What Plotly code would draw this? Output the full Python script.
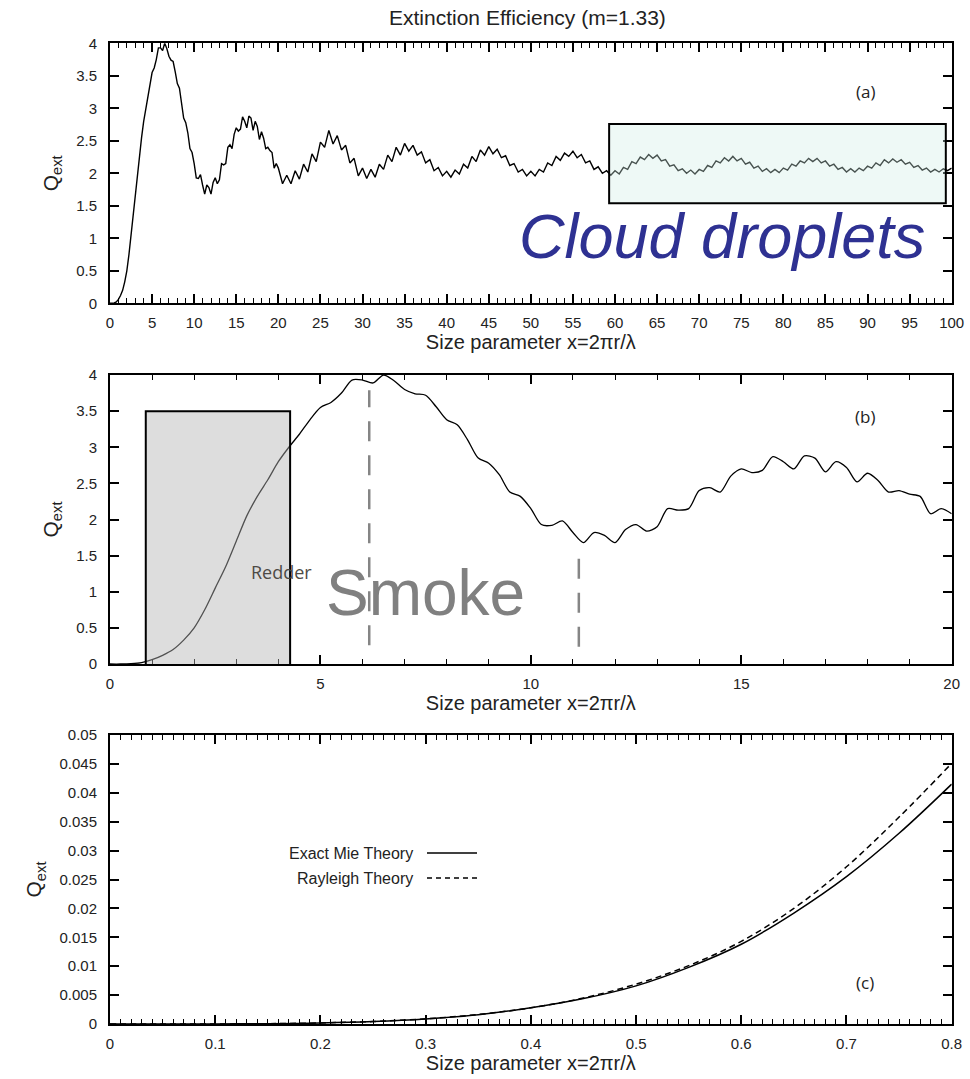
import plotly.graph_objects as go

# Extinction efficiency Q_ext of a water sphere (m = 1.33)

# Fine sampling, x = 0 .. 20 (step 0.25)
x_fine = [i * 0.25 for i in range(81)]
q_fine = [0.0, 0.0, 0.005, 0.02, 0.06, 0.12, 0.2, 0.33, 0.5, 0.75, 1.05, 1.35, 1.7, 2.05, 2.32, 2.55,
          2.8, 3.0, 3.18, 3.38, 3.55, 3.62, 3.75, 3.93, 3.93, 3.89, 4.0, 3.92, 3.8, 3.74, 3.72, 3.56,
          3.38, 3.31, 3.1, 2.85, 2.78, 2.62, 2.38, 2.32, 2.15, 1.93, 1.92, 1.98, 1.82, 1.68, 1.82, 1.78,
          1.68, 1.86, 1.93, 1.84, 1.9, 2.15, 2.13, 2.15, 2.4, 2.44, 2.38, 2.6, 2.7, 2.65, 2.68, 2.87,
          2.8, 2.7, 2.88, 2.85, 2.66, 2.8, 2.72, 2.52, 2.64, 2.54, 2.38, 2.4, 2.35, 2.32, 2.08, 2.15,
          2.08]

# Coarse sampling, x = 20 .. 100 (step 0.5)
x_coarse = [20 + i * 0.5 for i in range(161)]
q_coarse = [2.10, 1.84, 1.97, 1.84, 2.04, 1.91, 2.14, 2.02, 2.30, 2.18, 2.48, 2.40, 2.66, 2.45, 2.58, 2.36,
            2.43, 2.16, 2.23, 1.96, 2.08, 1.92, 2.06, 1.94, 2.14, 2.06, 2.28, 2.18, 2.40, 2.28, 2.46, 2.34,
            2.43, 2.28, 2.33, 2.16, 2.21, 2.04, 2.09, 1.96, 2.03, 1.94, 2.05, 1.99, 2.14, 2.08, 2.26, 2.18,
            2.36, 2.28, 2.41, 2.30, 2.37, 2.24, 2.27, 2.12, 2.15, 2.02, 2.06, 1.96, 2.03, 1.96, 2.06, 2.02,
            2.16, 2.12, 2.26, 2.20, 2.31, 2.26, 2.34, 2.24, 2.29, 2.16, 2.19, 2.06, 2.10, 2.00, 2.04, 1.97,
            2.04, 1.99, 2.09, 2.06, 2.18, 2.15, 2.25, 2.21, 2.29, 2.23, 2.28, 2.19, 2.21, 2.11, 2.13, 2.04,
            2.07, 2.00, 2.05, 1.99, 2.06, 2.03, 2.12, 2.09, 2.19, 2.16, 2.24, 2.19, 2.26, 2.19, 2.23, 2.14,
            2.17, 2.08, 2.11, 2.03, 2.07, 2.01, 2.06, 2.01, 2.08, 2.05, 2.14, 2.11, 2.19, 2.16, 2.23, 2.18,
            2.23, 2.16, 2.19, 2.11, 2.14, 2.06, 2.09, 2.02, 2.07, 2.02, 2.08, 2.04, 2.11, 2.08, 2.16, 2.12,
            2.21, 2.16, 2.22, 2.17, 2.21, 2.14, 2.17, 2.09, 2.12, 2.05, 2.08, 2.02, 2.06, 2.02, 2.07, 2.04,
            2.08]

# Small-particle limit, x = 0 .. 0.8
x_small = [0, 0.05, 0.1, 0.15, 0.2, 0.25, 0.3, 0.35, 0.4, 0.45, 0.5, 0.55, 0.6, 0.65, 0.7, 0.75, 0.8]
q_mie = [0, 0.000001, 0.00001, 0.00005, 0.00017, 0.00042, 0.00087, 0.0016, 0.0028, 0.0044, 0.0066,
         0.0098, 0.0138, 0.0192, 0.0255, 0.0330, 0.0415]
q_rayleigh = [0, 0.000001, 0.00001, 0.00006, 0.00018, 0.00043, 0.00089, 0.00165, 0.0028, 0.0045, 0.0069,
              0.0101, 0.0143, 0.0200, 0.0272, 0.0358, 0.0451]

# First maximum / first minimum markers in panel (b)
marker_x = [6.16, 11.14]
marker_top = [3.79, 1.51]
marker_bottom = [0.26, 0.24]

FONT = "Liberation Sans, Arial, Helvetica, sans-serif"
SOFT = "Open Sans, Liberation Sans, sans-serif"
INK = "#222222"

x_full = x_fine + x_coarse[1:]
q_full = q_fine + q_coarse[1:]

fig = go.Figure()

fig.add_trace(go.Scatter(x=x_full, y=q_full, mode="lines", xaxis="x", yaxis="y",
                         line=dict(color="black", width=1.4), showlegend=False))

fig.add_trace(go.Scatter(x=x_fine, y=q_fine, mode="lines", xaxis="x2", yaxis="y2",
                         line=dict(color="black", width=1.3, shape="spline", smoothing=0.8),
                         showlegend=False))
for mx, top, bot in zip(marker_x, marker_top, marker_bottom):
    fig.add_trace(go.Scatter(x=[mx, mx], y=[bot, top], mode="lines", xaxis="x2", yaxis="y2",
                             line=dict(color="#858585", width=2.5, dash="20px,14px"),
                             showlegend=False))

fig.add_trace(go.Scatter(x=x_small, y=q_mie, mode="lines", xaxis="x3", yaxis="y3",
                         line=dict(color="black", width=1.5, shape="spline"), showlegend=False))
fig.add_trace(go.Scatter(x=x_small, y=q_rayleigh, mode="lines", xaxis="x3", yaxis="y3",
                         line=dict(color="black", width=1.5, shape="spline", dash="6px,4px"),
                         showlegend=False))

x_dom = [110 / 970, 951.7 / 970]


def ydom(top_px, bot_px):
    return [1 - bot_px / 1079, 1 - top_px / 1079]


xtitle = "Size parameter x=2\u03c0r/\u03bb"
ytitle = "Q<sub>ext</sub>"


def xaxis_style(rng, dtick, minor, anchor):
    return dict(domain=x_dom, range=rng, dtick=dtick, tick0=0, anchor=anchor, automargin=False,
                showline=True, linecolor="black", linewidth=2, mirror="ticks",
                ticks="inside", ticklen=9, tickwidth=1.5, tickcolor="black",
                minor=dict(dtick=minor, ticks="inside", ticklen=5, tickwidth=1.2, tickcolor="black"),
                showgrid=False, zeroline=False, ticklabelstandoff=5,
                tickfont=dict(family=FONT, size=15, color=INK),
                title=dict(text=xtitle, standoff=4, font=dict(family=FONT, size=20, color=INK)))


def yaxis_style(rng, dtick, dom, anchor):
    return dict(domain=dom, range=rng, dtick=dtick, tick0=0, anchor=anchor, automargin=False,
                showline=True, linecolor="black", linewidth=2, mirror="ticks",
                ticks="inside", ticklen=9, tickwidth=1.5, tickcolor="black",
                showgrid=False, zeroline=False, ticklabelstandoff=8,
                tickfont=dict(family=FONT, size=15, color=INK),
                title=dict(text=ytitle, standoff=12, font=dict(family=FONT, size=21, color=INK)))


fig.update_layout(
    width=970, height=1079,
    margin=dict(l=0, r=0, t=0, b=0),
    paper_bgcolor="white", plot_bgcolor="white",
    xaxis=xaxis_style([0, 100], 5, 1, "y"),
    yaxis=yaxis_style([0, 4], 0.5, ydom(43.3, 303.3), "x"),
    xaxis2=xaxis_style([0, 20], 5, 1, "y2"),
    yaxis2=yaxis_style([0, 4], 0.5, ydom(375, 664), "x2"),
    xaxis3=xaxis_style([0, 0.8], 0.1, 0.01, "y3"),
    yaxis3=yaxis_style([0, 0.05], 0.005, ydom(735, 1024), "x3"),
)

shapes = [
    # cloud droplet size range
    dict(type="rect", xref="x", yref="y", x0=59.3, x1=99.3, y0=1.54, y1=2.76, layer="above",
         fillcolor="rgba(205,238,230,0.35)", line=dict(color="black", width=2)),
    # smoke size range
    dict(type="rect", xref="x2", yref="y2", x0=0.85, x1=4.28, y0=-0.04, y1=3.5, layer="above",
         fillcolor="rgba(180,180,180,0.45)", line=dict(color="black", width=2)),
    # legend samples
    dict(type="line", xref="paper", yref="paper", x0=427 / 970, x1=477 / 970,
         y0=1 - 853 / 1079, y1=1 - 853 / 1079, line=dict(color="black", width=1.5)),
    dict(type="line", xref="paper", yref="paper", x0=427 / 970, x1=477 / 970,
         y0=1 - 878 / 1079, y1=1 - 878 / 1079, line=dict(color="black", width=1.5, dash="5px,4px")),
]
fig.update_layout(shapes=shapes)


def px_note(text, x, y, size, color=INK, family=FONT, xanchor="center", italic=False):
    return dict(text=text, xref="paper", yref="paper", x=x / 970, y=1 - y / 1079,
                xanchor=xanchor, yanchor="middle", showarrow=False,
                font=dict(family=family, size=size, color=color,
                          style="italic" if italic else "normal"))


annotations = [
    px_note("Extinction Efficiency (m=1.33)", 527, 18, 21),
    px_note("(a)", 865, 92, 17, family=SOFT),
    px_note("(b)", 865, 416, 17, family=SOFT),
    px_note("(c)", 865, 982, 17, family=SOFT),
    px_note("Cloud droplets", 722, 236, 63, color="#2e3192", italic=True),
    px_note("Smoke", 425, 593, 64, color="#808080"),
    px_note("Redder", 249, 572, 18, color="#4d4a45", family=SOFT, xanchor="left"),
    px_note("Exact Mie Theory", 415, 853, 16, xanchor="right"),
    px_note("Rayleigh Theory", 415, 878, 16, xanchor="right"),
]
fig.update_layout(annotations=annotations)

fig.write_html("out.html")
